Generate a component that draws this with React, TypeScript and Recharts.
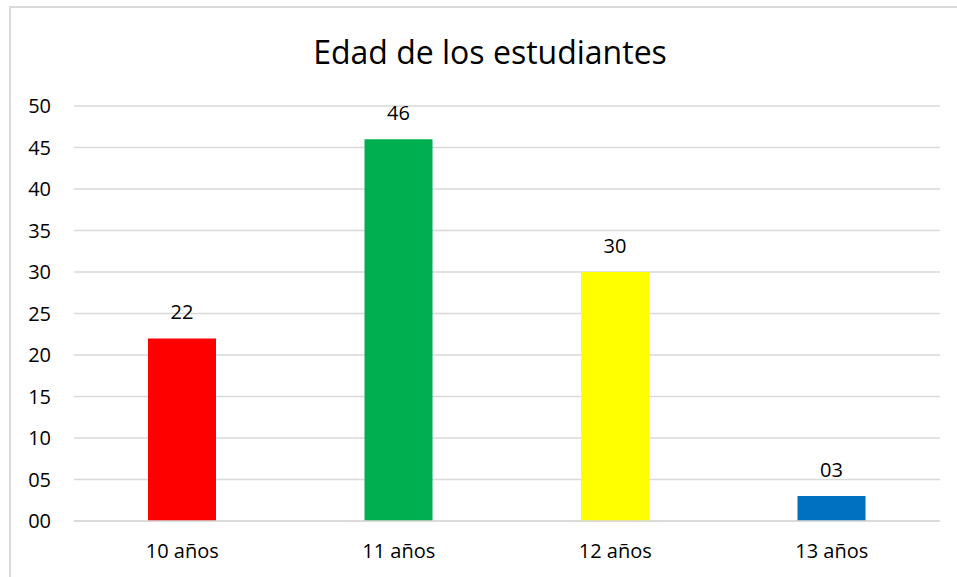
import React from "react";
import { BarChart, Bar, XAxis, YAxis, CartesianGrid, Cell, LabelList } from "recharts";

const categories = ["10 años", "11 años", "12 años", "13 años"];
const values = [22, 46, 30, 3];
const colors = ["#FF0000", "#00B050", "#FFFF00", "#0070C0"];
const yTicks = [0, 5, 10, 15, 20, 25, 30, 35, 40, 45, 50];
const title = "Edad de los estudiantes";

const data = categories.map((c, i) => ({ name: c, value: values[i] }));
const pad2 = (v: number | string) => String(v).padStart(2, "0");
const FONT = "'Open Sans', 'Noto Sans', sans-serif";

export default function App() {
  return (
    <div style={{ position: "absolute", left: 0, top: 0, width: 957, height: 577, overflow: "hidden", background: "#fff" }}>
      <div style={{ position: "absolute", left: 9, top: 6, width: 1000, height: 600, border: "2px solid #D9D9D9", boxSizing: "border-box" }} />
      <div style={{ position: "absolute", left: 10, top: 30, width: 960, textAlign: "center", fontFamily: FONT, fontSize: 32, color: "#000", lineHeight: "44px" }}>
        {title}
      </div>
      <div style={{ position: "absolute", left: 0, top: 0 }}>
        <BarChart width={957} height={577} data={data} margin={{ top: 106, right: 17, bottom: 0, left: 0 }}>
          <CartesianGrid vertical={false} stroke="#D9D9D9" strokeWidth={1.5} />
          <XAxis
            dataKey="name"
            axisLine={{ stroke: "#D9D9D9", strokeWidth: 1.5 }}
            tickLine={false}
            tickSize={0}
            tickMargin={23}
            height={56}
            tick={{ fill: "#000", fontSize: 20, fontFamily: FONT }}
          />
          <YAxis
            domain={[0, 50]}
            ticks={yTicks}
            width={74}
            axisLine={false}
            tickLine={false}
            tickSize={0}
            tickMargin={23}
            tickFormatter={pad2}
            tick={{ fill: "#000", fontSize: 20, fontFamily: FONT }}
          />
          <Bar dataKey="value" barSize={68} isAnimationActive={false}>
            {data.map((d, i) => (
              <Cell key={d.name} fill={colors[i]} />
            ))}
            <LabelList dataKey="value" position="top" offset={19} formatter={pad2} fill="#000" fontSize={20} fontFamily={FONT} />
          </Bar>
        </BarChart>
      </div>
    </div>
  );
}
